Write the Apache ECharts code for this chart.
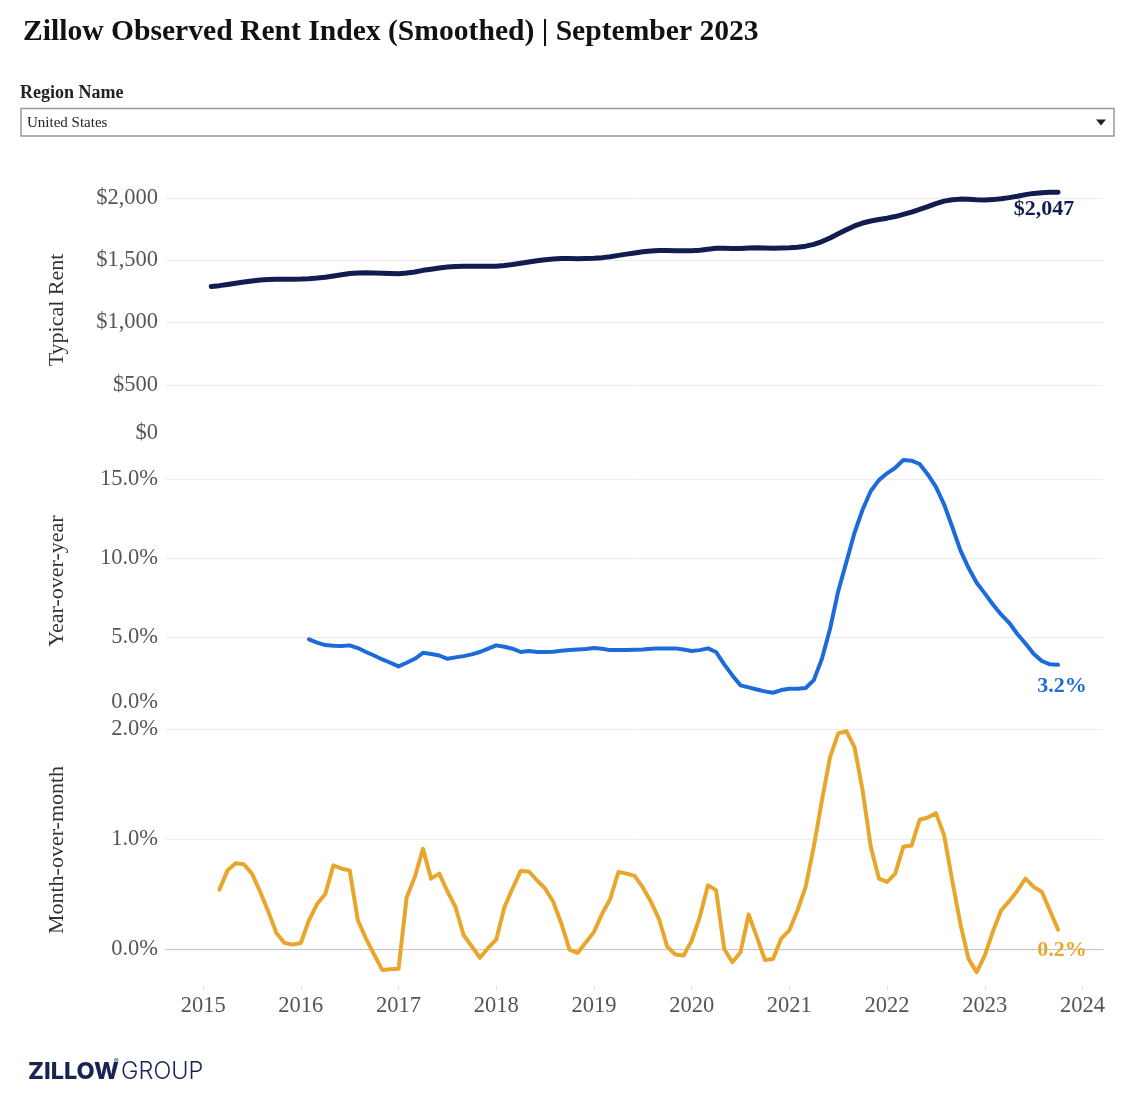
<!DOCTYPE html>
<html>
<head>
<meta charset="utf-8">
<script src="https://cdn.jsdelivr.net/npm/echarts@6/dist/echarts.min.js"></script>
<style>
  html, body { margin: 0; padding: 0; background: #fff; }
  #chart { width: 1145px; height: 1099px; }
</style>
</head>
<body>
<div id="chart"></div>
<script>
// ---------- DATA ----------
const firstMonth = '2015-01';
const lastMonth = '2023-09';

// Typical rent (USD), Jan 2015 - Sep 2023
const rentValues = [
  1289, 1296, 1305, 1315, 1325, 1334, 1341, 1345, 1347, 1348, 1348, 1349,
  1352, 1357, 1364, 1374, 1384, 1394, 1398, 1399, 1398, 1396, 1393, 1391,
  1397, 1406, 1419, 1428, 1437, 1445, 1450, 1452, 1452, 1451, 1451, 1452,
  1458, 1466, 1476, 1486, 1496, 1504, 1510, 1514, 1514, 1513, 1514, 1516,
  1521, 1528, 1539, 1549, 1559, 1568, 1574, 1578, 1578, 1577, 1576, 1577,
  1581, 1589, 1596, 1597, 1595, 1594, 1598, 1600, 1598, 1597, 1598, 1600,
  1604, 1613, 1628, 1650, 1679, 1712, 1745, 1776, 1799, 1815, 1827, 1838,
  1851, 1868, 1886, 1908, 1931, 1955, 1975, 1986, 1991, 1989, 1985, 1984,
  1987, 1994, 2003, 2014, 2027, 2037, 2043, 2046, 2047
];

// Year-over-year change (%), Jan 2016 - Sep 2023
const yoyValues = [
  4.85, 4.64, 4.49, 4.45, 4.43, 4.47, 4.30, 4.05, 3.83, 3.58, 3.37, 3.14,
  3.37, 3.62, 4.00, 3.92, 3.83, 3.62, 3.71, 3.79, 3.90, 4.05, 4.26, 4.47,
  4.38, 4.26, 4.05, 4.11, 4.05, 4.05, 4.07, 4.13, 4.17, 4.21, 4.24, 4.30,
  4.26, 4.17, 4.17, 4.17, 4.19, 4.21, 4.26, 4.28, 4.28, 4.28, 4.21, 4.11,
  4.17, 4.28, 4.05, 3.27, 2.57, 1.94, 1.81, 1.68, 1.56, 1.47, 1.64, 1.73,
  1.73, 1.77, 2.27, 3.62, 5.52, 7.90, 9.74, 11.60, 13.07, 14.24, 14.93, 15.36,
  15.71, 16.20, 16.16, 15.95, 15.29, 14.50, 13.40, 11.98, 10.50, 9.38, 8.43, 7.76,
  7.06, 6.43, 5.90, 5.19, 4.59, 3.94, 3.48, 3.27, 3.24
];

// Month-over-month change (%), Feb 2015 - Sep 2023
const momValues = [
  0.54, 0.715, 0.78, 0.77, 0.685, 0.52, 0.34, 0.145, 0.055, 0.04, 0.055,
  0.26, 0.41, 0.50, 0.76, 0.73, 0.715, 0.26, 0.095, -0.05, -0.19, -0.185, -0.18,
  0.47, 0.655, 0.91, 0.64, 0.685, 0.525, 0.38, 0.125, 0.025, -0.08, 0.01, 0.085,
  0.38, 0.55, 0.71, 0.705, 0.625, 0.55, 0.43, 0.23, -0.005, -0.035, 0.06, 0.155,
  0.32, 0.455, 0.70, 0.685, 0.665, 0.56, 0.43, 0.27, 0.02, -0.05, -0.06, 0.075,
  0.29, 0.58, 0.535, 0.0, -0.12, -0.03, 0.315, 0.11, -0.10, -0.09, 0.095, 0.17,
  0.35, 0.565, 0.93, 1.35, 1.745, 1.96, 1.98, 1.835, 1.44, 0.93, 0.64, 0.61,
  0.685, 0.93, 0.94, 1.175, 1.195, 1.235, 1.035, 0.625, 0.23, -0.09, -0.21, -0.06,
  0.16, 0.35, 0.435, 0.53, 0.64, 0.565, 0.52, 0.35, 0.175
];

const yearTicks = [2015, 2016, 2017, 2018, 2019, 2020, 2021, 2022, 2023, 2024];

// ---------- HELPERS ----------
function monthRange(a, b) {
  const out = [];
  let [y, m] = a.split('-').map(Number);
  const [ye, me] = b.split('-').map(Number);
  while (y < ye || (y === ye && m <= me)) {
    out.push(y + '-' + String(m).padStart(2, '0'));
    m++; if (m > 12) { m = 1; y++; }
  }
  return out;
}
const months = monthRange(firstMonth, lastMonth);
// month-end position on a decimal-year axis
function toX(ym) { const [y, m] = ym.split('-').map(Number); return y + m / 12; }

const rentData = rentValues.map((v, i) => [toX(months[i]), v]);
const yoyData = yoyValues.map((v, i) => [toX(months[i + 12]), v]);
const momData = momValues.map((v, i) => [toX(months[i + 1]), v]);

const XMIN = 2014.62, XMAX = 2024.21;
const SERIF = '"Liberation Serif", "Times New Roman", serif';
const NAVY = '#101d4e', BLUE = '#1c6bd9', AMBER = '#e9a62d';
const LABEL_GRAY = '#555';
const GRID_GRAY = '#ececec';
const TICK_FONT = 22.5;

function liftRich() {
  return { lift: { padding: [0, 0, 28, 0], fontFamily: SERIF, fontSize: TICK_FONT, color: LABEL_GRAY } };
}

const chart = echarts.init(document.getElementById('chart'), null, { renderer: 'canvas' });

const hiddenX = (g) => ({ gridIndex: g, type: 'value', min: XMIN, max: XMAX, show: false });

const option = {
  animation: false,
  backgroundColor: '#fff',
  title: {
    text: 'Zillow Observed Rent Index (Smoothed) | September 2023',
    left: 18, top: 12,
    textStyle: { fontFamily: SERIF, fontWeight: 'bold', fontSize: 29.6, color: '#111' }
  },
  grid: [
    { left: 166, right: 42, top: 198, height: 249 },
    { left: 166, right: 42, top: 479, height: 237 },
    { left: 166, right: 42, top: 729, height: 220 }
  ],
  xAxis: [
    hiddenX(0),
    hiddenX(1),
    {
      gridIndex: 2, type: 'value', min: XMIN, max: XMAX,
      axisLine: { show: true, onZero: true, lineStyle: { color: '#b5b5b5', type: 'dotted', width: 1 } },
      axisTick: { show: false }, axisLabel: { show: false }, splitLine: { show: false }
    },
    {
      gridIndex: 2, type: 'value', min: XMIN, max: XMAX, position: 'bottom', offset: 37,
      axisLine: { show: false, onZero: false },
      axisTick: { show: true, length: 5, customValues: yearTicks, lineStyle: { color: '#e3e3e3' } },
      axisLabel: {
        customValues: yearTicks, formatter: v => String(v), margin: 9,
        fontFamily: SERIF, fontSize: TICK_FONT, color: LABEL_GRAY
      },
      splitLine: { show: false }
    }
  ],
  yAxis: [
    {
      gridIndex: 0, type: 'value', min: 0, max: 2000, interval: 500,
      axisLine: { show: false }, axisTick: { show: false },
      splitLine: { show: true, showMinLine: false, lineStyle: { color: GRID_GRAY } },
      axisLabel: {
        margin: 8, fontFamily: SERIF, fontSize: TICK_FONT, color: LABEL_GRAY,
        formatter: v => v === 0 ? '{lift|$0}' : '$' + v.toLocaleString('en-US'),
        rich: liftRich()
      }
    },
    {
      gridIndex: 1, type: 'value', min: 0, max: 15, interval: 5,
      axisLine: { show: false }, axisTick: { show: false },
      splitLine: { show: true, showMinLine: false, lineStyle: { color: GRID_GRAY } },
      axisLabel: {
        margin: 8, fontFamily: SERIF, fontSize: TICK_FONT, color: LABEL_GRAY,
        formatter: v => v === 0 ? '{lift|0.0%}' : v.toFixed(1) + '%',
        rich: liftRich()
      }
    },
    {
      gridIndex: 2, type: 'value', min: 0, max: 2, interval: 1,
      axisLine: { show: false }, axisTick: { show: false },
      splitLine: { show: true, showMinLine: false, lineStyle: { color: GRID_GRAY } },
      axisLabel: {
        margin: 8, fontFamily: SERIF, fontSize: TICK_FONT, color: LABEL_GRAY,
        formatter: v => v.toFixed(1) + '%'
      }
    }
  ],
  series: [
    {
      type: 'line', xAxisIndex: 0, yAxisIndex: 0, data: rentData,
      symbol: 'none', clip: false,
      lineStyle: { color: NAVY, width: 5, cap: 'round', join: 'round' },
      itemStyle: { color: NAVY },
      endLabel: {
        show: true, distance: 0, align: 'center', verticalAlign: 'middle', offset: [-14, 17],
        formatter: p => '$' + p.value[1].toLocaleString('en-US'),
        fontFamily: SERIF, fontWeight: 'bold', fontSize: 22, color: NAVY
      }
    },
    {
      type: 'line', xAxisIndex: 1, yAxisIndex: 1, data: yoyData,
      symbol: 'none', clip: false,
      lineStyle: { color: BLUE, width: 4, cap: 'round', join: 'round' },
      itemStyle: { color: BLUE },
      endLabel: {
        show: true, distance: 0, align: 'center', verticalAlign: 'middle', offset: [4, 22],
        formatter: p => p.value[1].toFixed(1) + '%',
        fontFamily: SERIF, fontWeight: 'bold', fontSize: 22, color: BLUE
      }
    },
    {
      type: 'line', xAxisIndex: 2, yAxisIndex: 2, data: momData,
      symbol: 'none', clip: false,
      lineStyle: { color: AMBER, width: 4, cap: 'round', join: 'round' },
      itemStyle: { color: AMBER },
      endLabel: {
        show: true, distance: 0, align: 'center', verticalAlign: 'middle', offset: [4, 21],
        formatter: p => p.value[1].toFixed(1) + '%',
        fontFamily: SERIF, fontWeight: 'bold', fontSize: 22, color: AMBER
      }
    }
  ],
  graphic: [
    {
      type: 'text', x: 20, y: 93,
      style: { text: 'Region Name', font: 'bold 18px "Liberation Serif", serif', fill: '#222', verticalAlign: 'middle' }
    },
    {
      type: 'rect', shape: { x: 21, y: 108.5, width: 1093, height: 27.5 },
      style: { fill: '#fff', stroke: '#999', lineWidth: 1.5 }
    },
    {
      type: 'text', x: 27, y: 123,
      style: { text: 'United States', font: '15px "Liberation Serif", serif', fill: '#222', verticalAlign: 'middle' }
    },
    {
      type: 'polygon', shape: { points: [[1096, 119.5], [1106, 119.5], [1101, 125.5]] },
      style: { fill: '#222' }
    },
    {
      type: 'text', x: 57, y: 310, rotation: Math.PI / 2,
      style: { text: 'Typical Rent', font: '22px "Liberation Serif", serif', fill: '#333', align: 'center', verticalAlign: 'middle' }
    },
    {
      type: 'text', x: 57, y: 581, rotation: Math.PI / 2,
      style: { text: 'Year-over-year', font: '22px "Liberation Serif", serif', fill: '#333', align: 'center', verticalAlign: 'middle' }
    },
    {
      type: 'text', x: 57, y: 850, rotation: Math.PI / 2,
      style: { text: 'Month-over-month', font: '22px "Liberation Serif", serif', fill: '#333', align: 'center', verticalAlign: 'middle' }
    },
    {
      type: 'text', x: 28, y: 1072,
      style: { text: 'ZILLOW', font: '800 23.5px Inter, "DejaVu Sans", sans-serif', fill: '#1a2453', verticalAlign: 'middle' }
    },
    {
      type: 'text', x: 114, y: 1062,
      style: { text: '®', font: '7px Inter, sans-serif', fill: '#1a2453', verticalAlign: 'middle' }
    },
    {
      type: 'text', x: 121, y: 1072,
      style: { text: 'GROUP', font: '300 23.5px Inter, "DejaVu Sans", sans-serif', fill: '#1a2453', verticalAlign: 'middle' }
    }
  ]
};

chart.setOption(option);
</script>
</body>
</html>
